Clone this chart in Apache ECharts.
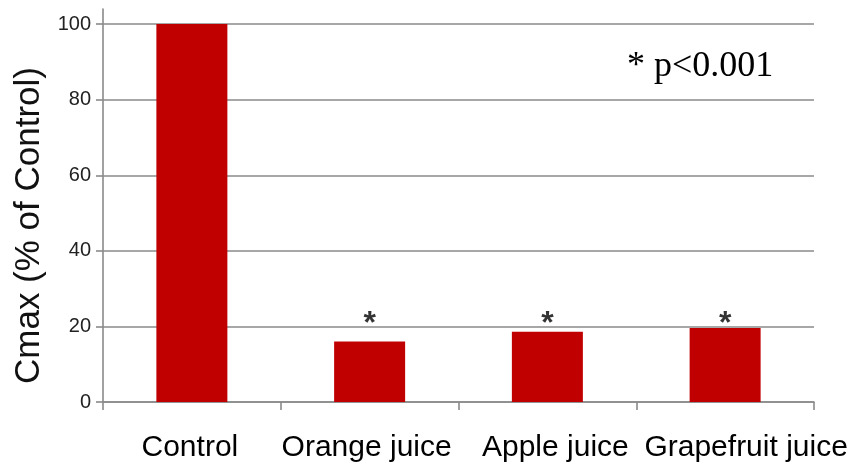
<!DOCTYPE html>
<html>
<head>
<meta charset="utf-8">
<script src="https://cdn.jsdelivr.net/npm/echarts@6/dist/echarts.min.js"></script>
<style>
  html, body { margin: 0; padding: 0; background: #ffffff; }
  #chart { width: 854px; height: 472px; }
</style>
</head>
<body>
<div id="chart"></div>
<script>
// Peak plasma concentration relative to the control arm
const categories = ['Control', 'Orange juice', 'Apple juice', 'Grapefruit juice'];
const cmaxPercent = [100, 16, 18.6, 19.6];
const significance = ['', '*', '*', '*'];
const markerLevel = ['-', 20, 20, 20];
const yTickValues = [0, 20, 40, 60, 80, 100];
const noteText = '* p<0.001';

const barColor = '#c00000';
const gridColor = '#8a8a8a';
const sansFont = "'Liberation Sans', Arial, sans-serif";

// horizontal nudges for the category captions (left, right padding)
const captionPad = [[0, 4], [0, 6], [16, 0], [42, 0]];
const rich = {};
captionPad.forEach((p, i) => {
  rich['c' + i] = {
    fontFamily: sansFont,
    fontSize: 30,
    color: '#000',
    padding: [0, p[1], 0, p[0]]
  };
});

const chart = echarts.init(document.getElementById('chart'), null, { renderer: 'canvas' });

chart.setOption({
  animation: false,
  backgroundColor: '#ffffff',
  grid: { left: 103, right: 40, top: 9, bottom: 70, containLabel: false, outerBoundsMode: 'none' },
  title: {
    text: noteText,
    left: 627,
    top: 49,
    padding: 0,
    textStyle: {
      fontFamily: "'Liberation Serif', 'Times New Roman', serif",
      fontSize: 36,
      fontWeight: 'normal',
      color: '#000'
    }
  },
  xAxis: {
    type: 'category',
    data: categories,
    axisLine: { show: true, lineStyle: { color: gridColor, width: 1.6 } },
    axisTick: { show: true, length: 8, alignWithLabel: false, lineStyle: { color: gridColor, width: 1.6 } },
    axisLabel: {
      interval: 0,
      margin: 31,
      formatter: (value, index) => '{c' + index + '|' + value + '}',
      rich: rich
    },
    splitLine: { show: false }
  },
  yAxis: {
    type: 'value',
    min: 0,
    max: 104,
    interval: 20,
    name: 'Cmax (% of Control)',
    nameLocation: 'middle',
    nameGap: 54,
    nameRotate: 90,
    nameTextStyle: {
      fontFamily: sansFont,
      fontSize: 35,
      color: '#111',
      padding: [0, 40, 0, 0]
    },
    axisLine: { show: true, lineStyle: { color: gridColor, width: 1.6 } },
    axisTick: { show: true, length: 7, customValues: yTickValues, lineStyle: { color: gridColor, width: 1.6 } },
    axisLabel: {
      customValues: yTickValues,
      margin: 12,
      fontFamily: sansFont,
      fontSize: 20,
      color: '#222'
    },
    splitLine: { show: true, lineStyle: { color: gridColor, width: 1.6 } }
  },
  series: [
    {
      type: 'bar',
      barWidth: 71,
      itemStyle: { color: barColor },
      data: cmaxPercent
    },
    {
      // significance markers resting on the 20% gridline
      type: 'scatter',
      symbolSize: 0,
      silent: true,
      label: {
        show: true,
        position: 'top',
        distance: -14,
        fontFamily: sansFont,
        fontWeight: 'bold',
        fontSize: 32,
        color: '#000',
        formatter: (p) => significance[p.dataIndex]
      },
      data: markerLevel
    }
  ]
});
</script>
</body>
</html>
